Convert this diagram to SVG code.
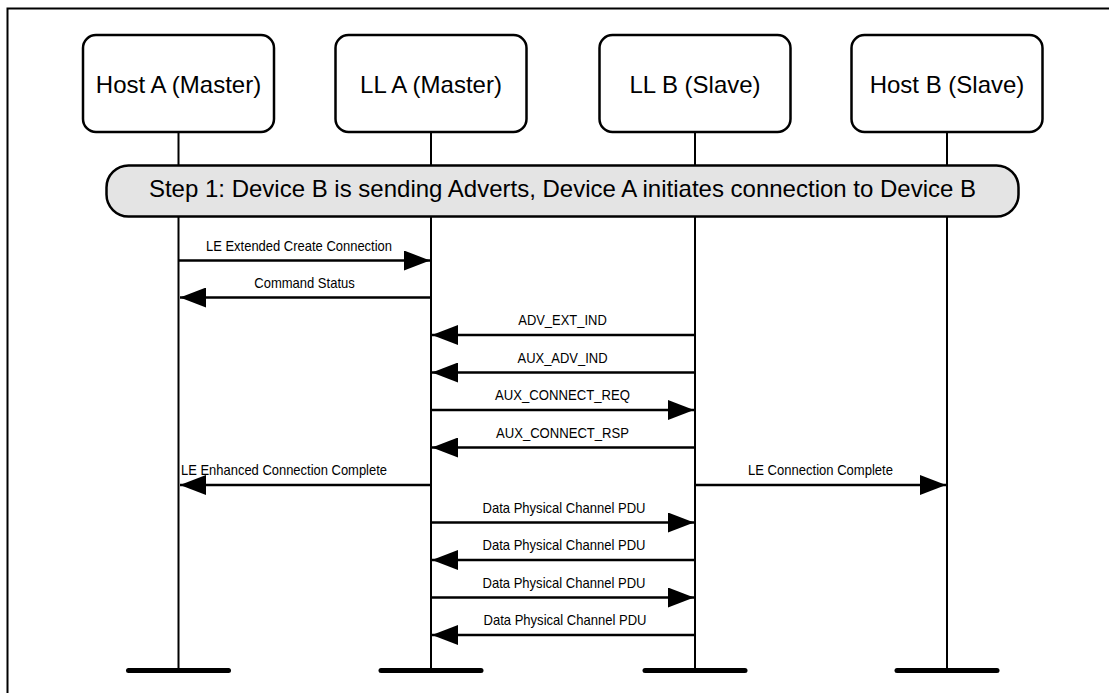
<svg xmlns="http://www.w3.org/2000/svg" width="1109" height="693" viewBox="0 0 1109 693">
<style>
.frame{fill:none;stroke:#000;stroke-width:2}
.box{fill:#fff;stroke:#000;stroke-width:2.5}
.step{fill:#e4e4e4;stroke:#000;stroke-width:2.5}
.life{stroke:#000;stroke-width:2;fill:none}
.bar{stroke:#000;stroke-width:5;stroke-linecap:round}
.msg{stroke:#000;stroke-width:2.5;fill:none;marker-end:url(#ah)}
.big{font-family:"Liberation Sans",Arial,sans-serif;font-size:24px;text-anchor:middle;fill:#000}
.lbl{font-family:"Liberation Sans",Arial,sans-serif;font-size:14.5px;text-anchor:middle;fill:#000}
</style>
<defs>
<marker id="ah" markerUnits="userSpaceOnUse" markerWidth="26" markerHeight="20" refX="26" refY="10" orient="auto" viewBox="0 0 26 20">
<path d="M0,0 L26,10 L0,20 Z" fill="#000"/>
</marker>
</defs>
<rect width="1109" height="693" fill="#fff"/>
<path class="frame" d="M7.5,693 V8.5 H1109"/>

<g id="lifelines">
<line class="life" x1="178.5" y1="132" x2="178.5" y2="670"/>
<line class="life" x1="431" y1="132" x2="431" y2="670"/>
<line class="life" x1="695" y1="132" x2="695" y2="670"/>
<line class="life" x1="947" y1="132" x2="947" y2="670"/>
<line class="bar" x1="128.5" y1="670.5" x2="228.5" y2="670.5"/>
<line class="bar" x1="381" y1="670.5" x2="481" y2="670.5"/>
<line class="bar" x1="645" y1="670.5" x2="745" y2="670.5"/>
<line class="bar" x1="897" y1="670.5" x2="997" y2="670.5"/>
</g>

<g id="hostA">
<rect class="box" x="83" y="35" width="191" height="97" rx="13"/>
<text class="big" x="178.5" y="93">Host A (Master)</text>
</g>
<g id="llA">
<rect class="box" x="335.5" y="35" width="191" height="97" rx="13"/>
<text class="big" x="431" y="93">LL A (Master)</text>
</g>
<g id="llB">
<rect class="box" x="599.5" y="35" width="191" height="97" rx="13"/>
<text class="big" x="695" y="93">LL B (Slave)</text>
</g>
<g id="hostB">
<rect class="box" x="851.5" y="35" width="191" height="97" rx="13"/>
<text class="big" x="947" y="93">Host B (Slave)</text>
</g>

<g id="step1">
<rect class="step" x="106.5" y="165.5" width="912" height="51" rx="22"/>
<text class="big" x="562.5" y="197">Step 1: Device B is sending Adverts, Device A initiates connection to Device B</text>
</g>

<g id="connectors">
<line class="msg" x1="178.5" y1="260.5" x2="430" y2="260.5"/>
<text class="lbl" x="299" y="251" textLength="186" lengthAdjust="spacingAndGlyphs">LE Extended Create Connection</text>

<line class="msg" x1="431" y1="297.5" x2="180" y2="297.5"/>
<text class="lbl" x="304.5" y="287.5" textLength="100.5" lengthAdjust="spacingAndGlyphs">Command Status</text>

<line class="msg" x1="695" y1="335" x2="432" y2="335"/>
<text class="lbl" x="562.5" y="325" textLength="88.5" lengthAdjust="spacingAndGlyphs">ADV_EXT_IND</text>

<line class="msg" x1="695" y1="372.5" x2="432" y2="372.5"/>
<text class="lbl" x="562.5" y="362.5" textLength="90" lengthAdjust="spacingAndGlyphs">AUX_ADV_IND</text>

<line class="msg" x1="431" y1="410" x2="694" y2="410"/>
<text class="lbl" x="562.5" y="400" textLength="135" lengthAdjust="spacingAndGlyphs">AUX_CONNECT_REQ</text>

<line class="msg" x1="695" y1="447.5" x2="432" y2="447.5"/>
<text class="lbl" x="562.5" y="437.5" textLength="133" lengthAdjust="spacingAndGlyphs">AUX_CONNECT_RSP</text>

<line class="msg" x1="431" y1="485" x2="180" y2="485"/>
<text class="lbl" x="284" y="475" textLength="206" lengthAdjust="spacingAndGlyphs">LE Enhanced Connection Complete</text>

<line class="msg" x1="695" y1="485" x2="946" y2="485"/>
<text class="lbl" x="820.5" y="475" textLength="145" lengthAdjust="spacingAndGlyphs">LE Connection Complete</text>

<line class="msg" x1="431" y1="522.5" x2="694" y2="522.5"/>
<text class="lbl" x="564" y="512.5" textLength="163" lengthAdjust="spacingAndGlyphs">Data Physical Channel PDU</text>

<line class="msg" x1="695" y1="560" x2="432" y2="560"/>
<text class="lbl" x="564" y="550" textLength="163" lengthAdjust="spacingAndGlyphs">Data Physical Channel PDU</text>

<line class="msg" x1="431" y1="597.5" x2="694" y2="597.5"/>
<text class="lbl" x="564" y="587.5" textLength="163" lengthAdjust="spacingAndGlyphs">Data Physical Channel PDU</text>

<line class="msg" x1="695" y1="635" x2="432" y2="635"/>
<text class="lbl" x="565" y="625" textLength="163" lengthAdjust="spacingAndGlyphs">Data Physical Channel PDU</text>
</g>
</svg>
